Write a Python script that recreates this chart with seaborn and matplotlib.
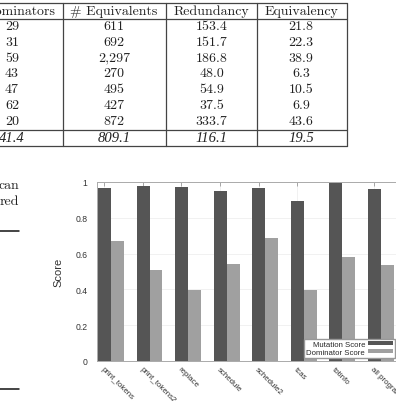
import numpy as np
import pandas as pd
import seaborn as sns
import matplotlib.pyplot as plt

# ---- table data ----
dominators = ['29', '31', '59', '43', '47', '62', '20']
equivalents = ['611', '692', '2,297', '270', '495', '427', '872']
redundancy = ['153.4', '151.7', '186.8', '48.0', '54.9', '37.5', '333.7']
equivalency = ['21.8', '22.3', '38.9', '6.3', '10.5', '6.9', '43.6']
averages = ['41.4', '809.1', '116.1', '19.5']
headers = ['# Dominators', '# Equivalents', 'Redundancy', 'Equivalency']

# ---- chart data ----
programs = ['print_tokens', 'print_tokens2', 'replace', 'schedule',
            'schedule2', 'tcas', 'totinfo', 'all programs']
mutation_score = [0.965, 0.98, 0.974, 0.948, 0.966, 0.892, 0.994, 0.959]
dominator_score = [0.672, 0.51, 0.398, 0.542, 0.685, 0.398, 0.579, 0.538]

sns.set_style('white')
plt.rcParams['font.family'] = ['Liberation Sans', 'DejaVu Sans']

fig = plt.figure(figsize=(3.96, 4.02), dpi=100)

# overlay in pixel coords for the page parts (table, text fragments)
page = fig.add_axes([0, 0, 1, 1])
page.set_xlim(0, 396)
page.set_ylim(402, 0)
page.axis('off')

line_kw = dict(color='#444444', lw=0.9)
for y in [4, 19.5, 131, 147]:
    page.plot([-5, 347], [y, y], **line_kw)
for x in [63, 166, 257, 347]:
    page.plot([x, x], [4, 147], **line_kw)

col_x = [12, 114, 211.5, 301]
row_y = [27, 43, 58.5, 74, 90, 106, 122]
serif = dict(family='cmr10', size=10, color='#222222', ha='center', va='center')
for cx, h in zip(col_x, headers):
    page.text(cx, 11.5, h, **serif)
columns = [dominators, equivalents, redundancy, equivalency]
for cx, col in zip(col_x, columns):
    for ry, v in zip(row_y, col):
        page.text(cx, ry, v, **serif)
for cx, v in zip(col_x, averages):
    page.text(cx, 139, v, family='Liberation Serif', style='italic', size=10.5,
              color='#222222', ha='center', va='center')

# left column text fragments
page.text(19, 186, 'can', family='cmr10', size=10, color='#222222', ha='right', va='center')
page.text(19, 202, 'red', family='cmr10', size=10, color='#222222', ha='right', va='center')
page.plot([-5, 19], [232, 232], color='#111111', lw=1.1)
page.plot([-5, 19], [390, 390], color='#111111', lw=1.1)

# ---- bar chart ----
df = pd.DataFrame({
    'program': programs * 2,
    'score': mutation_score + dominator_score,
    'metric': ['Mutation Score'] * len(programs) + ['Dominator Score'] * len(programs),
})

ax = fig.add_axes([97 / 396, 40 / 402, 303 / 396, 179 / 402])
sns.barplot(data=df, x='program', y='score', hue='metric',
            palette=['#555555', '#a0a0a0'], width=0.675, saturation=1,
            linewidth=0, ax=ax)

ax.set_xlim(-0.3636, 7.506)
ax.set_ylim(0, 1)
ax.set_yticks([0, 0.2, 0.4, 0.6, 0.8, 1.0])
ax.set_yticklabels(['0', '0.2', '0.4', '0.6', '0.8', '1'])
ax.set_xticks(np.arange(len(programs)) - 0.169)
ax.set_xticklabels(programs, rotation=-45, ha='left', va='top', rotation_mode='anchor')
ax.tick_params(axis='both', direction='in', length=3, width=0.6, color='#999999',
               labelsize=5.7, labelcolor='#333333', top=True, right=True)
ax.tick_params(axis='y', pad=7, labelsize=6.2)
ax.tick_params(axis='x', pad=3)
ax.set_xlabel('')
ax.set_ylabel('Score', fontsize=8, color='#333333')
ax.yaxis.set_label_coords(-0.112, 0.5)
ax.grid(True, color='#ececec', lw=0.5)
ax.set_axisbelow(True)
for s in ax.spines.values():
    s.set_color('#aaaaaa')
    s.set_linewidth(0.7)

handles, labels = ax.get_legend_handles_labels()
ax.legend(handles, labels, loc='lower right', bbox_to_anchor=(395 / 396, 43 / 402),
          bbox_transform=fig.transFigure, fontsize=5.6, markerfirst=False,
          frameon=True, fancybox=False, edgecolor='#999999', framealpha=1,
          handlelength=3.2, handleheight=0.4, borderpad=0.25, labelspacing=0.15,
          handletextpad=0.4, borderaxespad=0)

fig.savefig('out.png', dpi=100)
